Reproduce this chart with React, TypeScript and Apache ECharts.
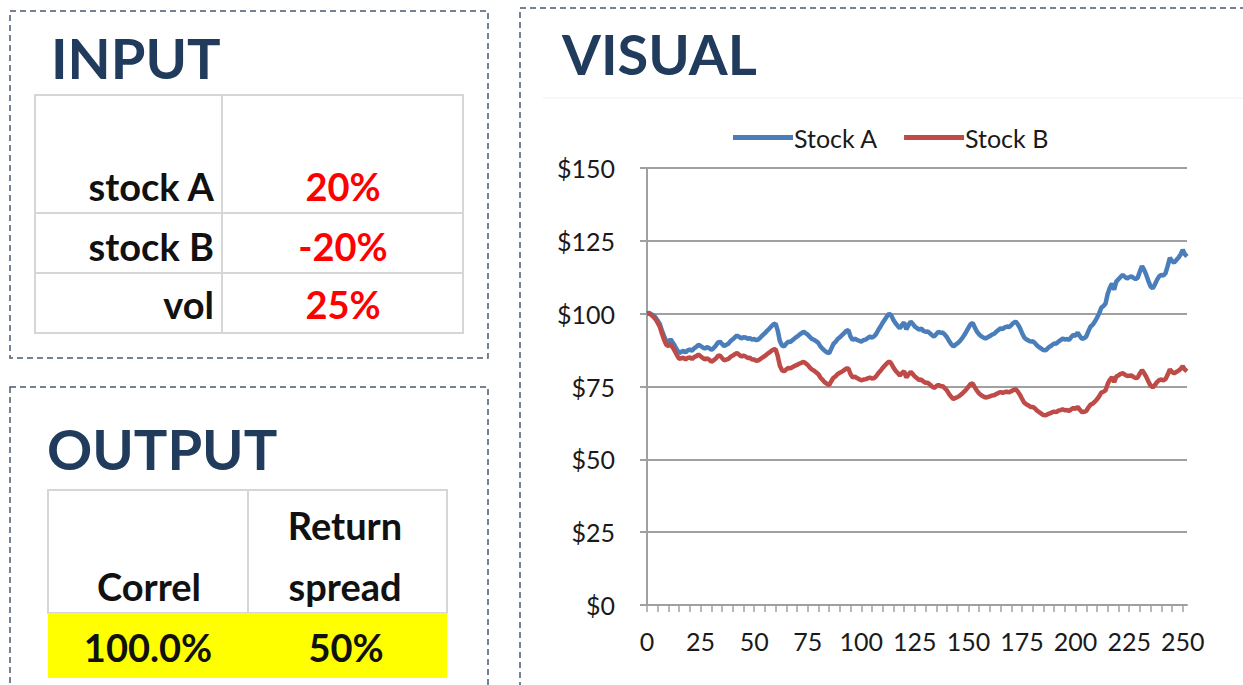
import React, { useEffect, useRef } from "react";
import * as echarts from "echarts";

const stockA = [
  100.0, 100.3, 99.8, 99.4, 98.7, 97.6, 96.4, 94.1, 92.2, 90.6,
  90.3, 91.2, 90.1, 88.9, 87.6, 86.5, 86.9, 87.2, 86.7, 87.4,
  87.7, 87.3, 88.1, 88.6, 89.3, 88.9, 88.4, 88.0, 88.5, 88.2,
  87.6, 88.1, 88.9, 90.0, 90.4, 89.6, 88.9, 89.3, 89.7, 90.6,
  91.2, 91.9, 92.5, 92.0, 91.5, 91.9, 91.8, 91.4, 91.6, 91.1,
  91.3, 90.9, 91.2, 91.9, 92.6, 93.3, 94.1, 94.8, 95.6, 96.3,
  96.6, 94.2, 90.6, 89.1, 88.8, 89.7, 90.4, 90.3, 91.0, 91.6,
  92.1, 92.7, 93.2, 93.8, 93.3, 92.8, 92.0, 91.3, 91.0, 90.5,
  89.9, 88.7, 87.9, 87.2, 86.7, 86.4, 88.0, 89.6, 90.3, 91.3,
  91.9, 92.6, 93.3, 94.1, 94.3, 92.1, 91.0, 91.4, 91.0, 90.7,
  90.4, 90.9, 91.1, 91.6, 92.1, 91.8, 92.2, 93.1, 94.5, 95.6,
  96.9, 98.0, 99.1, 100.0, 99.4, 97.8, 96.7, 95.8, 95.0, 96.1,
  97.0, 94.6, 96.0, 97.3, 96.5, 95.6, 95.0, 94.5, 94.9, 94.1,
  93.8, 93.9, 93.3, 92.6, 92.1, 93.0, 93.8, 93.4, 93.5, 92.8,
  91.9, 90.6, 89.5, 88.7, 89.4, 89.9, 90.6, 91.5, 92.6, 93.8,
  95.1, 96.4, 96.8, 95.2, 93.8, 92.9, 92.2, 91.8, 91.5, 91.9,
  92.3, 92.8, 93.1, 93.8, 94.4, 95.0, 94.7, 95.3, 95.6, 95.4,
  96.1, 96.8, 97.3, 96.4, 95.1, 93.4, 91.9, 91.2, 90.8, 90.4,
  90.5, 89.9, 89.1, 88.5, 88.0, 87.5, 87.4, 88.1, 88.7, 89.2,
  89.8, 89.7, 90.4, 90.9, 91.5, 91.1, 91.3, 91.0, 92.0, 92.7,
  92.4, 93.5, 92.3, 91.3, 91.6, 92.2, 94.0, 95.6, 96.2, 97.3,
  98.6, 100.1, 102.0, 102.6, 103.5, 106.8, 108.9, 110.4, 108.2, 111.0,
  111.8, 112.6, 113.3, 112.7, 112.1, 112.5, 112.8, 112.3, 111.9, 112.3,
  114.5, 116.3, 115.0, 113.3, 111.2, 109.4, 108.7, 110.0, 111.6, 112.8,
  113.3, 113.1, 113.9, 116.4, 119.2, 118.1, 117.5, 118.4, 119.2, 120.3,
  121.9, 120.4, 119.6,
];

const stockB = [
  100.0, 100.1, 99.5, 98.9, 98.1, 96.8, 95.5, 93.1, 91.0, 89.3,
  88.9, 89.6, 88.4, 87.1, 85.7, 84.5, 84.7, 84.9, 84.3, 84.8,
  85.0, 84.4, 85.1, 85.4, 86.0, 85.4, 84.8, 84.3, 84.7, 84.2,
  83.5, 83.9, 84.5, 85.4, 85.7, 84.8, 84.0, 84.2, 84.5, 85.2,
  85.6, 86.1, 86.5, 85.9, 85.3, 85.6, 85.3, 84.8, 84.9, 84.3,
  84.3, 83.8, 84.0, 84.5, 85.0, 85.5, 86.1, 86.6, 87.2, 87.7,
  87.8, 85.5, 82.1, 80.6, 80.2, 80.9, 81.4, 81.2, 81.7, 82.1,
  82.4, 82.8, 83.1, 83.5, 83.0, 82.4, 81.5, 80.8, 80.4, 79.8,
  79.2, 78.0, 77.2, 76.4, 75.9, 75.5, 76.8, 78.0, 78.5, 79.3,
  79.7, 80.1, 80.6, 81.2, 81.2, 79.2, 78.1, 78.4, 77.9, 77.5,
  77.1, 77.4, 77.5, 77.8, 78.1, 77.7, 77.9, 78.6, 79.6, 80.4,
  81.4, 82.2, 83.0, 83.6, 82.9, 81.5, 80.4, 79.6, 78.8, 79.6,
  80.2, 78.1, 79.1, 80.0, 79.3, 78.4, 77.8, 77.2, 77.4, 76.7,
  76.3, 76.3, 75.7, 75.0, 74.5, 75.1, 75.6, 75.1, 75.1, 74.4,
  73.6, 72.4, 71.4, 70.7, 71.1, 71.4, 71.9, 72.5, 73.2, 74.0,
  74.9, 75.9, 76.0, 74.7, 73.5, 72.6, 72.0, 71.6, 71.2, 71.4,
  71.6, 71.9, 72.0, 72.4, 72.8, 73.1, 72.8, 73.1, 73.2, 73.0,
  73.4, 73.8, 74.1, 73.3, 72.2, 70.8, 69.5, 68.9, 68.5, 68.0,
  68.0, 67.5, 66.7, 66.2, 65.7, 65.2, 65.1, 65.5, 65.8, 66.1,
  66.4, 66.2, 66.7, 66.9, 67.2, 66.8, 66.9, 66.6, 67.2, 67.6,
  67.3, 68.0, 67.0, 66.2, 66.3, 66.6, 67.8, 68.8, 69.1, 69.8,
  70.6, 71.6, 72.9, 73.2, 73.7, 75.9, 77.3, 78.2, 76.5, 78.4,
  78.8, 79.3, 79.6, 79.1, 78.6, 78.7, 78.8, 78.3, 77.9, 78.1,
  79.5, 80.6, 79.6, 78.3, 76.7, 75.3, 74.7, 75.5, 76.5, 77.2,
  77.4, 77.1, 77.6, 79.1, 80.9, 80.0, 79.5, 80.0, 80.4, 81.0,
  82.0, 80.8, 80.2,
];

const days = stockA.map((_, i) => String(i));
const xLabelDays = [0, 25, 50, 75, 100, 125, 150, 175, 200, 225, 250];
const yTicks = [0, 25, 50, 75, 100, 125, 150];

const seriesNames = ["Stock A", "Stock B"];

const inputLabels = ["stock A", "stock B", "vol"];
const inputValues = ["20%", "-20%", "25%"];

const outputHeaders = [["Correl"], ["Return", "spread"]];
const outputValues = ["100.0%", "50%"];

const FONT = "Lato, 'Open Sans', 'DejaVu Sans', sans-serif";
const NAVY = "#213b5c";
const DASH = "#4a5a70";
const CELL = "#d6d6d6";

export default function App() {
  const ref = useRef<HTMLDivElement>(null);

  useEffect(() => {
    document.body.style.margin = "0";
    const chart = echarts.init(ref.current!, null, { renderer: "svg" });

    const dashed = (x: number, y: number, w: number, h: number) => ({
      type: "rect",
      shape: { x, y, width: w, height: h },
      style: { fill: "none", stroke: DASH, lineWidth: 1.5, lineDash: [6, 4] },
      silent: true,
    });
    const cell = (x: number, y: number, w: number, h: number, fill = "#ffffff") => ({
      type: "rect",
      shape: { x, y, width: w, height: h },
      style: { fill, stroke: CELL, lineWidth: 2 },
      silent: true,
    });
    const txt = (
      text: string,
      x: number,
      y: number,
      size: number,
      color: string,
      align: string
    ) => ({
      type: "text",
      x,
      y,
      style: {
        text,
        fontSize: size,
        fontWeight: "bold",
        fontFamily: FONT,
        fill: color,
        align,
        verticalAlign: "middle",
      },
      silent: true,
    });

    const inputRowTop = [95, 213, 273];
    const inputRowH = [118, 60, 60];
    const inputTextY = [186, 246, 304];

    const graphics: any[] = [
      dashed(10, 11, 478, 347),
      dashed(10, 387, 478, 330),
      dashed(520, 8, 760, 700),
      {
        type: "line",
        shape: { x1: 543, y1: 98, x2: 1243, y2: 98 },
        style: { stroke: "#eeeeee", lineWidth: 1 },
        silent: true,
      },
      txt("INPUT", 51, 57, 56, NAVY, "left"),
      txt("OUTPUT", 47, 448, 56, NAVY, "left"),
      txt("VISUAL", 562, 53, 56, NAVY, "left"),
    ];

    inputLabels.forEach((lab, i) => {
      graphics.push(cell(35, inputRowTop[i], 187, inputRowH[i]));
      graphics.push(cell(222, inputRowTop[i], 241, inputRowH[i]));
      graphics.push(txt(lab, 214, inputTextY[i], 38, "#111111", "right"));
      graphics.push(txt(inputValues[i], 343, inputTextY[i], 38, "#ff0000", "center"));
    });

    graphics.push(cell(48, 490, 200, 123));
    graphics.push(cell(248, 490, 199, 123));
    graphics.push({
      type: "rect",
      shape: { x: 48, y: 613, width: 399, height: 65 },
      style: { fill: "#ffff00" },
      silent: true,
    });
    graphics.push(txt(outputHeaders[0][0], 149, 586, 38, "#111111", "center"));
    graphics.push(txt(outputHeaders[1][0], 345, 525, 38, "#111111", "center"));
    graphics.push(txt(outputHeaders[1][1], 345, 586, 38, "#111111", "center"));
    graphics.push(txt(outputValues[0], 148, 647, 38, "#111111", "center"));
    graphics.push(txt(outputValues[1], 346, 647, 38, "#111111", "center"));

    chart.setOption({
      animation: false,
      backgroundColor: "#ffffff",
      graphic: graphics,
      legend: {
        data: seriesNames,
        left: 728,
        top: 120,
        icon: "rect",
        itemWidth: 60,
        itemHeight: 5,
        itemGap: 26,
        textStyle: { fontFamily: FONT, fontSize: 25, color: "#1a1a1a", padding: [0, 0, 0, -4] },
      },
      grid: { left: 647, top: 168, width: 540, height: 437, containLabel: false },
      xAxis: {
        type: "category",
        data: days,
        boundaryGap: false,
        axisLine: { show: true, lineStyle: { color: "#a0a0a0", width: 2 } },
        axisTick: {
          show: true,
          interval: 4,
          length: 7,
          lineStyle: { color: "#a0a0a0", width: 1.5 },
        },
        axisLabel: {
          interval: (idx: number) => xLabelDays.includes(idx),
          margin: 23,
          fontFamily: FONT,
          fontSize: 25,
          color: "#1a1a1a",
        },
        splitLine: { show: false },
      },
      yAxis: {
        type: "value",
        min: yTicks[0],
        max: yTicks[yTicks.length - 1],
        interval: 25,
        axisLine: { show: true, lineStyle: { color: "#a0a0a0", width: 2 } },
        axisTick: { show: true, length: 7, lineStyle: { color: "#a0a0a0", width: 2 } },
        axisLabel: {
          formatter: (v: number) => "$" + v,
          margin: 32,
          fontFamily: FONT,
          fontSize: 25,
          color: "#1a1a1a",
        },
        splitLine: { show: true, lineStyle: { color: "#a0a0a0", width: 2 } },
      },
      series: [
        {
          name: seriesNames[0],
          type: "line",
          data: stockA,
          symbol: "none",
          color: "#4a7ebb",
          lineStyle: { color: "#4a7ebb", width: 4.5 },
        },
        {
          name: seriesNames[1],
          type: "line",
          data: stockB,
          symbol: "none",
          color: "#be4b48",
          lineStyle: { color: "#be4b48", width: 4.5 },
        },
      ],
    });

    return () => chart.dispose();
  }, []);

  return (
    <div
      ref={ref}
      style={{ position: "fixed", left: 0, top: 0, width: 1243, height: 685 }}
    />
  );
}
